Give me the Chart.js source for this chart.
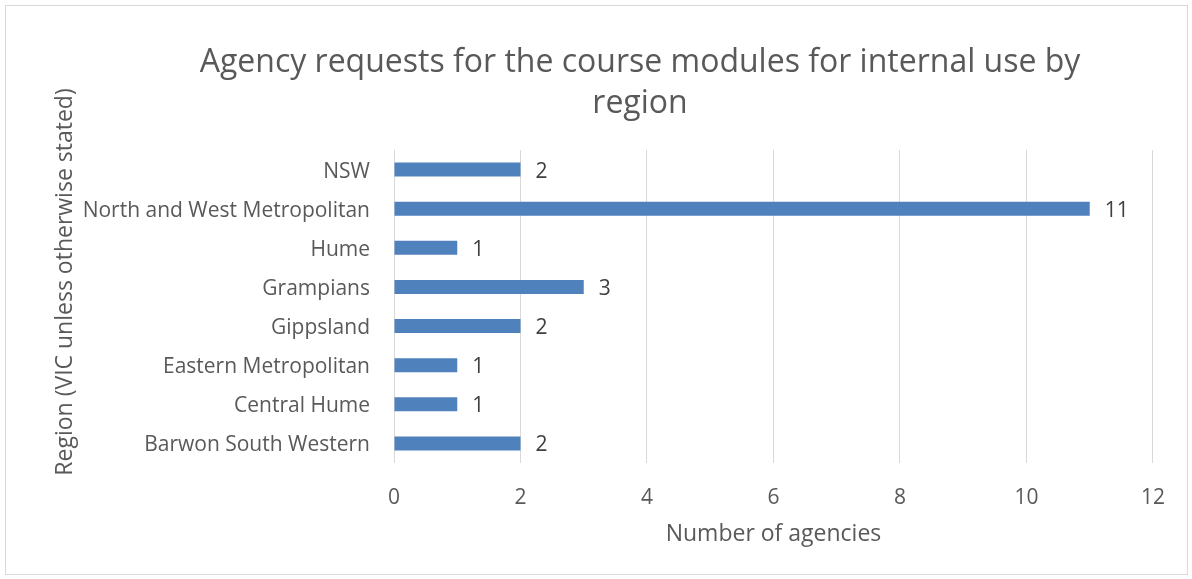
<!DOCTYPE html>
<html>
<head>
<meta charset="utf-8">
<script src="https://cdn.jsdelivr.net/npm/chart.js@4"></script>
<style>
  html, body { margin: 0; padding: 0; background: #fff; }
  #wrap {
    position: absolute; left: 5px; top: 5px;
    width: 1181px; height: 568px;
    border: 1px solid #d9d9d9;
  }
</style>
</head>
<body>
<div id="wrap"><canvas id="myChart" width="1181" height="568"></canvas></div>
<script>
/* globals Chart:false */

const titleLines = ['Agency requests for the course modules for internal use by', 'region']
const yTitle = 'Region (VIC unless otherwise stated)'
const xTitle = 'Number of agencies'
const regions = [
  'NSW',
  'North and West Metropolitan',
  'Hume',
  'Grampians',
  'Gippsland',
  'Eastern Metropolitan',
  'Central Hume',
  'Barwon South Western'
]
const agencies = [2, 11, 1, 3, 2, 1, 1, 2]
const xTicks = [0, 2, 4, 6, 8, 10, 12]

const FONT = '"Open Sans", sans-serif'
const TEXT = '#595959'

;(() => {
  'use strict'

  // bar-end values, the two-line title and the vertical axis title
  const extras = {
    id: 'extras',
    afterDatasetsDraw (chart) {
      const c = chart.ctx
      const meta = chart.getDatasetMeta(0)
      c.save()
      c.font = '21px ' + FONT
      c.fillStyle = '#404040'
      c.textAlign = 'left'
      c.textBaseline = 'middle'
      meta.data.forEach((bar, i) => {
        c.fillText(String(agencies[i]), bar.x + 15, bar.y + 2)
      })
      c.textAlign = 'center'
      c.font = '32px ' + FONT
      c.fillStyle = TEXT
      titleLines.forEach((t, i) => {
        c.fillText(t, 634, 57 + i * 41)
      })
      c.font = '23px ' + FONT
      c.translate(59, 276)
      c.rotate(-Math.PI / 2)
      c.fillText(yTitle, 0, 0)
      c.restore()
    }
  }

  const ctx = document.getElementById('myChart')
  // eslint-disable-next-line no-unused-vars
  const myChart = new Chart(ctx, {
    type: 'bar',
    data: {
      labels: regions,
      datasets: [{
        data: agencies,
        backgroundColor: '#4f81bd',
        categoryPercentage: 1,
        barPercentage: 0.36
      }]
    },
    plugins: [extras],
    options: {
      indexAxis: 'y',
      responsive: false,
      animation: false,
      layout: { padding: { top: 144, right: 32, left: 0, bottom: 0 } },
      plugins: {
        legend: { display: false },
        tooltip: { enabled: false }
      },
      scales: {
        x: {
          min: 0,
          max: 12,
          afterBuildTicks: (scale) => { scale.ticks = xTicks.map(v => ({ value: v })) },
          afterFit: (scale) => { scale.height = 111 },
          grid: { color: '#d9d9d9', drawTicks: false, lineWidth: 1 },
          border: { display: false },
          ticks: { color: TEXT, font: { family: FONT, size: 21 }, padding: 22 },
          title: {
            display: true,
            text: xTitle,
            color: TEXT,
            font: { family: FONT, size: 23 },
            padding: { top: 0, bottom: 26 }
          }
        },
        y: {
          afterFit: (scale) => { scale.width = 388 },
          grid: { display: false, drawTicks: false },
          border: { display: false },
          ticks: { color: TEXT, font: { family: FONT, size: 21 }, padding: 24, labelOffset: 2 },
          title: { display: false }
        }
      }
    }
  })
})()
</script>
</body>
</html>
